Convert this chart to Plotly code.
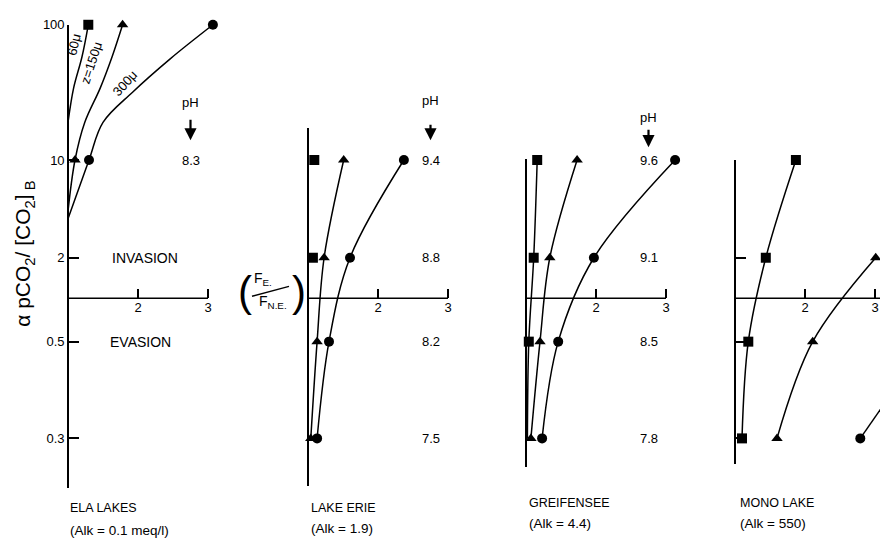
import numpy as np
import plotly.graph_objects as go

W, H = 880, 545

# ---------------- data ----------------
Y_TICK_VALUES = [100, 10, 2, 0.5, 0.3]
Y_TICK_LABELS = ["100", "10", "2", "0.5", "0.3"]
X_TICK_VALUES = [2, 3]
X_TICK_LABELS = ["2", "3"]

ROWS = [10, 2, 0.5, 0.3]            # alpha pCO2/[CO2]B levels of the lake rows

# ELA lakes: three boundary-layer thicknesses
ELA_SQ_X = [1.29, 1.20, 1.08, 1.00]          # z = 60 micron
ELA_SQ_Y = [100, 58, 34, 19]
ELA_SQ_MX = [1.29]
ELA_SQ_MY = [100]
ELA_TRI_X = [1.78, 1.63, 1.46, 1.24, 1.10, 1.00]   # z = 150 micron
ELA_TRI_Y = [100, 58, 34, 19, 10, 4.3]
ELA_TRI_MX = [1.78, 1.10]
ELA_TRI_MY = [100, 10]
ELA_CIR_X = [3.07, 2.46, 1.93, 1.50, 1.30, 1.00]   # z = 300 micron
ELA_CIR_Y = [100, 56, 32, 19, 10, 3.8]
ELA_CIR_MX = [3.07, 1.30]
ELA_CIR_MY = [100, 10]
ELA_PH = ["8.3"]

# Lake Erie
ERIE_SQ_X = [1.09, 1.07]
ERIE_SQ_Y = [10, 2]
ERIE_TRI_X = [1.51, 1.23, 1.13, 1.04]
ERIE_CIR_X = [2.37, 1.60, 1.30, 1.13]
ERIE_PH = ["9.4", "8.8", "8.2", "7.5"]

# Greifensee
GREIF_SQ_X = [1.16, 1.11, 1.04, 1.02]
GREIF_SQ_MX = [1.16, 1.11, 1.04]
GREIF_SQ_MY = [10, 2, 0.5]
GREIF_TRI_X = [1.73, 1.34, 1.20, 1.07]
GREIF_CIR_X = [3.13, 1.97, 1.46, 1.23]
GREIF_PH = ["9.6", "9.1", "8.5", "7.8"]

# Mono Lake
MONO_SQ_X = [1.87, 1.44, 1.19, 1.10]
MONO_TRI_X = [3.01, 2.11, 1.60]
MONO_TRI_Y = [2, 0.5, 0.3]
MONO_CIR_X = [2.79, 3.75]
MONO_CIR_Y = [0.3, 0.5]

LAKE_NAMES = ["ELA LAKES", "LAKE ERIE", "GREIFENSEE", "MONO LAKE"]
LAKE_ALK = ["(Alk = 0.1 meq/l)", "(Alk = 1.9)", "(Alk = 4.4)", "(Alk = 550)"]
CURVE_LABELS = ["60\u03bc", "z=150\u03bc", "300\u03bc"]

# ---------------- scale (schematic log-like vertical scale) ----------------
SCALE_VALUES = [0.3, 0.5, 1, 2, 10, 100]
SCALE_PX = [437, 339, 295, 254, 155, 18]


def yu(vals):
    v = np.log10(np.asarray(vals, dtype=float))
    return (H - np.interp(v, np.log10(SCALE_VALUES), SCALE_PX)).tolist()


PX_PER_UNIT = 70.0
PANELS = [
    dict(x0=68, xmax=3.2, top=18, bottom=487, yticks=Y_TICK_VALUES, labels=True, xend=3.0),
    dict(x0=308, xmax=3.2, top=123, bottom=485, yticks=[], labels=False, xend=3.0),
    dict(x0=526, xmax=3.25, top=154, bottom=466, yticks=[10], labels=False, xend=3.0),
    dict(x0=735, xmax=1 + 145 / 70.0, top=155, bottom=463, yticks=[10, 2, 0.5, 0.3],
         labels=False, xend=1 + 145 / 70.0),
]
TITLE_POS = [(68, 508, 530), (309, 508, 528), (527, 502, 523), (738, 502, 523)]

FONT = "Liberation Sans, Arial, sans-serif"

fig = go.Figure()


def ax(k):
    return ("x" if k == 1 else f"x{k}"), ("y" if k == 1 else f"y{k}")


def add_line(k, xs, ys):
    xa, ya = ax(k)
    fig.add_trace(go.Scatter(x=xs, y=yu(ys), mode="lines", xaxis=xa, yaxis=ya,
                             line=dict(color="black", width=1.5, shape="spline", smoothing=1.0),
                             hoverinfo="skip", showlegend=False))


def add_markers(k, xs, ys, symbol):
    xa, ya = ax(k)
    size = {"square": 10, "circle": 10, "triangle-up": 10}[symbol]
    fig.add_trace(go.Scatter(x=xs, y=yu(ys), mode="markers", xaxis=xa, yaxis=ya,
                             marker=dict(symbol=symbol, size=size, color="black",
                                         line=dict(width=0)),
                             cliponaxis=False, hoverinfo="skip", showlegend=False))


# Panel 1: ELA
add_line(1, ELA_SQ_X, ELA_SQ_Y)
add_line(1, ELA_TRI_X, ELA_TRI_Y)
add_line(1, ELA_CIR_X, ELA_CIR_Y)
add_markers(1, ELA_SQ_MX, ELA_SQ_MY, "square")
add_markers(1, ELA_TRI_MX, ELA_TRI_MY, "triangle-up")
add_markers(1, ELA_CIR_MX, ELA_CIR_MY, "circle")

# Panel 2: Erie
add_line(2, ERIE_TRI_X, ROWS)
add_line(2, ERIE_CIR_X, ROWS)
add_markers(2, ERIE_SQ_X, ERIE_SQ_Y, "square")
add_markers(2, ERIE_TRI_X, ROWS, "triangle-up")
add_markers(2, ERIE_CIR_X, ROWS, "circle")

# Panel 3: Greifensee
add_line(3, GREIF_SQ_X, ROWS)
add_line(3, GREIF_TRI_X, ROWS)
add_line(3, GREIF_CIR_X, ROWS)
add_markers(3, GREIF_SQ_MX, GREIF_SQ_MY, "square")
add_markers(3, GREIF_TRI_X, ROWS, "triangle-up")
add_markers(3, GREIF_CIR_X, ROWS, "circle")

# Panel 4: Mono
add_line(4, MONO_SQ_X, ROWS)
add_line(4, MONO_TRI_X, MONO_TRI_Y)
add_line(4, MONO_CIR_X, MONO_CIR_Y)
add_markers(4, MONO_SQ_X, ROWS, "square")
add_markers(4, MONO_TRI_X, MONO_TRI_Y, "triangle-up")
add_markers(4, MONO_CIR_X, MONO_CIR_Y, "circle")

# ---------------- axes ----------------
layout = dict(width=W, height=H, margin=dict(l=0, r=0, t=0, b=0),
              paper_bgcolor="white", plot_bgcolor="rgba(0,0,0,0)",
              font=dict(family=FONT, size=13, color="black"), showlegend=False)
x_axis_y = yu([1])[0] / H
shapes = []
for i, p in enumerate(PANELS, start=1):
    xname = "xaxis" if i == 1 else f"xaxis{i}"
    yname = "yaxis" if i == 1 else f"yaxis{i}"
    xa, ya = ax(i)
    d0 = p["x0"] / W
    d1 = min(1.0, (p["x0"] + (p["xmax"] - 1) * PX_PER_UNIT) / W)
    layout[xname] = dict(domain=[d0, d1], range=[1, p["xmax"]], anchor="free",
                         position=x_axis_y, showline=False, showgrid=False, zeroline=False,
                         tickmode="array", tickvals=X_TICK_VALUES, ticktext=X_TICK_LABELS,
                         ticks="inside", ticklen=9, tickwidth=1.5, tickcolor="black",
                         tickfont=dict(size=13, family=FONT, color="black"))
    ticks_y = p["yticks"]
    layout[yname] = dict(domain=[(H - p["bottom"]) / H, (H - p["top"]) / H],
                         range=[H - p["bottom"], H - p["top"]], anchor="free",
                         position=d0, showline=True, linecolor="black", linewidth=1.6,
                         showgrid=False, zeroline=False, tickmode="array",
                         tickvals=yu(ticks_y) if ticks_y else [],
                         ticktext=[Y_TICK_LABELS[Y_TICK_VALUES.index(t)] for t in ticks_y],
                         showticklabels=p["labels"], ticks="inside" if ticks_y else "",
                         ticklen=10, tickwidth=1.5, tickcolor="black",
                         tickfont=dict(size=13, family=FONT, color="black"))
    # horizontal baseline at ratio = 1
    shapes.append(dict(type="line", xref=xa, yref=ya, x0=1, x1=p["xend"],
                       y0=yu([1])[0], y1=yu([1])[0], line=dict(color="black", width=1.5)))

annotations = []


def txt(x, y, text, size=13, xanchor="center", family=FONT, angle=0, xref="paper", yref="paper"):
    annotations.append(dict(x=x, y=y, xref=xref, yref=yref, text=text, showarrow=False,
                            xanchor=xanchor, yanchor="middle", textangle=angle,
                            font=dict(size=size, family=family, color="black")))


def ppx(px):
    return px / W


def ppy(py):
    return 1 - py / H


# panel titles
for name, alk, (x, y1, y2) in zip(LAKE_NAMES, LAKE_ALK, TITLE_POS):
    txt(ppx(x), ppy(y1), name, size=12.5, xanchor="left")
    txt(ppx(x), ppy(y2), alk, size=13.5, xanchor="left")

# pH columns
PH_X = 2.75
txt(PH_X, yu([10])[0], ELA_PH[0], xref="x", yref="y")
for k, vals in ((2, ERIE_PH), (3, GREIF_PH)):
    xa, ya = ax(k)
    for v, r in zip(vals, ROWS):
        txt(PH_X, yu([r])[0], v, xref=xa, yref=ya)

for k, (label_y, tail_y, head_y) in zip((1, 2, 3), ((97, 113, 135), (95, 118, 135), (112, 123, 142))):
    xa, _ = ax(k)
    txt(PH_X, ppy(label_y), "pH", xref=xa)
    annotations.append(dict(x=PH_X, y=ppy(head_y), xref=xa, yref="paper", text="",
                            showarrow=True, ax=0, ay=-(head_y - tail_y), arrowhead=2,
                            arrowsize=1.1, arrowwidth=2.2, arrowcolor="black"))

# invasion / evasion
txt(2.1, yu([2])[0], "INVASION", size=14, xref="x", yref="y")
txt(2.03, yu([0.5])[0], "EVASION", size=14, xref="x", yref="y")

# curve labels in panel 1
for text, (px, py), ang in zip(CURVE_LABELS, ((74, 38), (91, 57), (125, 78)), (-77, -72, -48)):
    txt(ppx(px), ppy(py), text, size=13, angle=ang)

# y-axis title
txt(ppx(24), ppy(250), "\u03b1 pCO<sub>2</sub>/ [CO<sub>2</sub>]<sub> B</sub>", size=21, angle=-90)

# x ratio label (F_E. / F_N.E.)
txt(ppx(245), ppy(288), "(", size=42)
txt(ppx(299), ppy(288), ")", size=42)
txt(ppx(263), ppy(276), "F<sub>E.</sub>", size=14)
txt(ppx(273), ppy(299), "F<sub>N.E.</sub>", size=14)
shapes.append(dict(type="line", xref="paper", yref="paper", x0=ppx(252), y0=ppy(293),
                   x1=ppx(289), y1=ppy(283), line=dict(color="black", width=1.5)))

layout["annotations"] = annotations
layout["shapes"] = shapes
fig.update_layout(**layout)
fig.write_html("out.html")
